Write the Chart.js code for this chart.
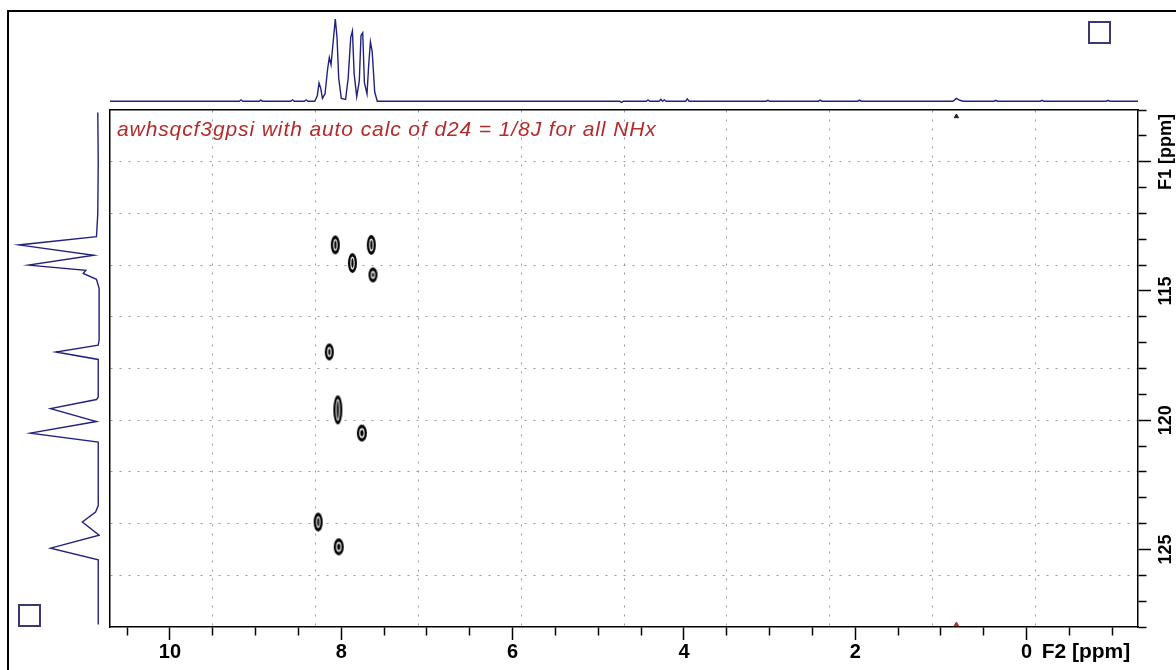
<!DOCTYPE html>
<html>
<head>
<meta charset="utf-8">
<title>HSQC NHx</title>
<script src="https://cdn.jsdelivr.net/npm/chart.js@4.4.1/dist/chart.umd.min.js"></script>
<style>
    html, body { margin: 0; padding: 0; background: #fff; }
    body { width: 1176px; height: 670px; position: relative; overflow: hidden; }
    #frame { position: absolute; left: 7px; top: 10px; width: 1200px; height: 700px;
             border-top: 2px solid #000; border-left: 2px solid #000; }
    .btn { position: absolute; width: 19px; height: 19px; border: 2px solid #3a3a70; }
    canvas { position: absolute; }
</style>
</head>
<body>
<div id="frame"></div>
<div class="btn" style="left:1088px; top:21px"></div>
<div class="btn" style="left:18px; top:604px"></div>
<canvas id="topSpec" width="1028" height="93" style="left:110px; top:10px"></canvas>
<canvas id="leftSpec" width="90" height="517" style="left:10px; top:110px"></canvas>
<canvas id="main" width="1176" height="670" style="left:0; top:0"></canvas>

<script>
// Datos
const xLabels = [10, 8, 6, 4, 2, 0];
const yLabels = [115, 120, 125];
const gridF2 = [9.5, 8.3, 7.1, 5.9, 4.7, 3.5, 2.3, 1.1, -0.1];
const gridF1 = [110, 112, 114, 116, 118, 120, 122, 124, 126];

// picos de correlación (F2 = 1H, F1 = 15N)
const peakF2 = [8.07, 7.65, 7.87, 7.63, 8.14, 8.04, 7.76, 8.27, 8.03];
const peakF1 = [113.22, 113.22, 113.92, 114.38, 117.36, 119.6, 120.5, 123.94, 124.9];

// artefactos en los bordes (0.8 ppm)
const edgeF2 = [0.82, 0.82];
const edgeF1 = [108.25, 127.9];

// espectro 1D arriba (1H)
const topPpm = [10.70, 9.19, 9.17, 9.15, 8.96, 8.94, 8.92, 8.59, 8.57, 8.55, 8.43, 8.41, 8.39,
    8.31, 8.28, 8.26, 8.24, 8.22, 8.19, 8.16, 8.14, 8.12, 8.10, 8.07, 8.05, 8.03, 8.00,
    7.95, 7.92, 7.89, 7.87, 7.85, 7.82, 7.79, 7.77, 7.75, 7.73, 7.70, 7.68, 7.66, 7.64,
    7.61, 7.58, 4.75, 4.73, 4.71, 4.44, 4.42, 4.40, 4.29, 4.27, 4.25,
    4.23, 4.21, 3.98, 3.96, 3.94, 3.04, 3.02, 3.00, 2.43, 2.41, 2.39, 1.97, 1.95, 1.93,
    0.86, 0.82, 0.78, 0.74, 0.38, 0.36, 0.34, -0.16, -0.18, -0.20, -0.93, -0.95, -0.97, -1.30];
const topInt = [0, 0, 1.5, 0, 0, 1.2, 0, 0, 1.5, 0, 0, 1.5, 0,
    0, 6, 20, 14, 3, 8, 35, 48, 40, 60, 90, 70, 25, 3,
    2, 25, 70, 77, 30, 5, 22, 72, 75, 20, 8, 40, 65, 55,
    10, 0, 0, -1.5, 0, 0, 1.5, 0, 0, 2, 0,
    1.5, 0, 0, 2.5, 0, 0, 1, 0, 0, 1.2, 0, 0, 1.2, 0,
    0, 3, 1, 0, 0, 1, 0, 0, 1, 0, 0, 1, 0, 0];

// proyección F1 a la izquierda (15N)
const leftPpm = [108.1, 110.0, 112.0, 112.9, 113.22, 113.62, 114.0, 114.2, 114.32, 114.55,
    114.9, 116.9, 117.1, 117.36, 117.65, 119.1, 119.2, 119.55, 120.05, 120.5, 120.85,
    123.3, 123.55, 123.94, 124.45, 124.95, 125.4, 127.9];
const leftInt = [0.5, 0, 0.5, 2, 90, 5, 79, 14, 17, 2,
    -1, -1, 0, 48, 0, 0, 2, 54, 2, 77, 0,
    0, 3, 18, -1, 54, 0, 0];

// tamaños de los contornos (px)
const contourW = [9, 9, 9, 9, 9, 9, 10, 9, 10];
const contourH = [19, 20, 20, 15, 17, 29, 17, 19, 17];

const FONT = '"Liberation Sans", Arial, sans-serif';
const SPEC_COLOR = '#22227e';
const X_MIN = -1.3, X_MAX = 10.7;
const Y_MIN = 108, Y_MAX = 128;

Chart.defaults.font.family = FONT;
Chart.defaults.animation = false;

function makeContour(w, h) {
    const c = document.createElement('canvas');
    c.width = w + 4;
    c.height = h + 4;
    const g = c.getContext('2d');
    const cx = c.width / 2, cy = c.height / 2;
    g.fillStyle = '#000';
    g.beginPath();
    g.ellipse(cx, cy, w / 2, h / 2, 0, 0, Math.PI * 2);
    g.fill();
    g.fillStyle = '#fff';
    g.beginPath();
    g.ellipse(cx, cy, Math.max(w / 2 - 2.3, 0.8), Math.max(h / 2 - 3.4, 1), 0, 0, Math.PI * 2);
    g.fill();
    g.fillStyle = '#000';
    g.beginPath();
    g.ellipse(cx, cy, Math.max(w / 2 - 3.4, 0.5), Math.max(h / 2 - 5.2, 0.8), 0, 0, Math.PI * 2);
    g.fill();
    return c;
}

const contours = contourW.map((w, i) => makeContour(w, contourH[i]));

const noLegend = { legend: { display: false }, tooltip: { enabled: false } };

// Espectro 1D superior
new Chart(document.getElementById('topSpec'), {
    type: 'scatter',
    data: {
        datasets: [{
            data: topPpm.map((p, i) => ({ x: p, y: topInt[i] })),
            showLine: true,
            borderColor: SPEC_COLOR,
            borderWidth: 1.4,
            pointRadius: 0,
        }],
    },
    options: {
        responsive: false,
        layout: { padding: 0 },
        plugins: noLegend,
        scales: {
            x: { type: 'linear', display: false, reverse: true, min: X_MIN, max: X_MAX },
            y: { type: 'linear', display: false, min: -2, max: 100 },
        },
    },
});

// Proyección F1 izquierda
new Chart(document.getElementById('leftSpec'), {
    type: 'scatter',
    data: {
        datasets: [{
            data: leftPpm.map((p, i) => ({ x: leftInt[i], y: p })),
            showLine: true,
            borderColor: SPEC_COLOR,
            borderWidth: 1.4,
            pointRadius: 0,
        }],
    },
    options: {
        responsive: false,
        layout: { padding: 0 },
        plugins: noLegend,
        scales: {
            x: { type: 'linear', display: false, reverse: true, min: -2, max: 100 },
            y: { type: 'linear', display: false, reverse: true, min: Y_MIN, max: Y_MAX },
        },
    },
});

const isMajorX = v => Math.abs(v / 2 - Math.round(v / 2)) < 1e-6;
const isMajorY = v => Math.abs(v / 5 - Math.round(v / 5)) < 1e-6;

// marcas de 0.5 ppm entre -1 y 10.5
function minorTicksF2(scale) {
    const t = [];
    for (let k = 21; k >= -2; k--) t.push({ value: k / 2 });
    scale.ticks = t;
}

// textos extra (título y unidades)
const annotPlugin = {
    id: 'annot',
    afterDraw(chart) {
        const ctx = chart.ctx;
        const xs = chart.scales.x;
        const area = chart.chartArea;
        ctx.save();
        ctx.fillStyle = '#b52a2a';
        ctx.font = 'italic 21px ' + FONT;
        ctx.letterSpacing = '0.9px';
        ctx.textBaseline = 'alphabetic';
        ctx.fillText('awhsqcf3gpsi with auto calc of d24 = 1/8J for all NHx', area.left + 7, area.top + 26);
        ctx.letterSpacing = '0px';

        ctx.fillStyle = '#000';
        ctx.font = 'bold 21px ' + FONT;
        ctx.textBaseline = 'middle';
        ctx.textAlign = 'left';
        ctx.fillText('F2 [ppm]', xs.getPixelForValue(0) + 15, 652);

        ctx.translate(1166, 152);
        ctx.rotate(-Math.PI / 2);
        ctx.textAlign = 'center';
        ctx.font = 'bold 18px ' + FONT;
        ctx.fillText('F1 [ppm]', 0, 0);
        ctx.restore();
    },
};

new Chart(document.getElementById('main'), {
    type: 'scatter',
    data: {
        datasets: [{
            data: peakF2.map((p, i) => ({ x: p, y: peakF1[i] })),
            pointStyle: ctx => contours[ctx.dataIndex],
            pointRadius: 5,
            xAxisID: 'x',
            yAxisID: 'y',
        }, {
            data: edgeF2.map((p, i) => ({ x: p, y: edgeF1[i] })),
            pointStyle: 'triangle',
            pointRadius: 2.5,
            backgroundColor: ['#222', '#b03030'],
            borderColor: ['#222', '#b03030'],
            xAxisID: 'x',
            yAxisID: 'y',
        }],
    },
    options: {
        responsive: false,
        layout: { padding: { left: 110, top: 110, right: 0, bottom: 0 } },
        plugins: noLegend,
        scales: {
            x: {
                type: 'linear',
                position: 'bottom',
                reverse: true,
                min: X_MIN,
                max: X_MAX,
                afterBuildTicks: minorTicksF2,
                afterFit: s => { s.height = 43; },
                ticks: {
                    autoSkip: false,
                    maxRotation: 0,
                    padding: 0,
                    color: '#000',
                    font: { size: 20, weight: 'bold' },
                    callback: v => (isMajorX(v) && xLabels.includes(Math.round(v)) ? String(Math.round(v)) : ''),
                },
                grid: {
                    drawOnChartArea: false,
                    tickLength: 13,
                    tickColor: '#000',
                    tickWidth: 1.5,
                    tickBorderDash: c => (isMajorX(c.tick.value) ? [] : [8, 40]),
                },
                border: { display: true, color: '#000', width: 1.5 },
            },
            y: {
                type: 'linear',
                position: 'right',
                reverse: true,
                min: Y_MIN,
                max: Y_MAX,
                afterFit: s => { s.width = 38; },
                ticks: {
                    stepSize: 1,
                    includeBounds: false,
                    autoSkip: false,
                    minRotation: 90,
                    maxRotation: 90,
                    crossAlign: 'center',
                    padding: 0,
                    color: '#000',
                    font: { size: 18, weight: 'bold' },
                    callback: v => (yLabels.includes(Math.round(v)) && isMajorY(v) ? String(Math.round(v)) : ''),
                },
                grid: {
                    drawOnChartArea: false,
                    tickLength: 13,
                    tickColor: '#000',
                    tickWidth: 1.5,
                    tickBorderDash: c => (isMajorY(c.tick.value) ? [] : [8, 40]),
                },
                border: { display: true, color: '#000', width: 1.5 },
            },
            xg: {
                type: 'linear',
                position: 'top',
                reverse: true,
                min: X_MIN,
                max: X_MAX,
                afterBuildTicks: s => { s.ticks = gridF2.map(v => ({ value: v })); },
                ticks: { display: false },
                grid: { drawTicks: false, color: '#9a9a9a', lineWidth: 1 },
                border: { display: true, color: '#000', width: 1.5, dash: [2, 7] },
            },
            yg: {
                type: 'linear',
                position: 'left',
                reverse: true,
                min: Y_MIN,
                max: Y_MAX,
                afterBuildTicks: s => { s.ticks = gridF1.map(v => ({ value: v })); },
                ticks: { display: false },
                grid: { drawTicks: false, color: '#9a9a9a', lineWidth: 1 },
                border: { display: true, color: '#000', width: 1.5, dash: [2, 7] },
            },
        },
    },
    plugins: [annotPlugin],
});
</script>
</body>
</html>
